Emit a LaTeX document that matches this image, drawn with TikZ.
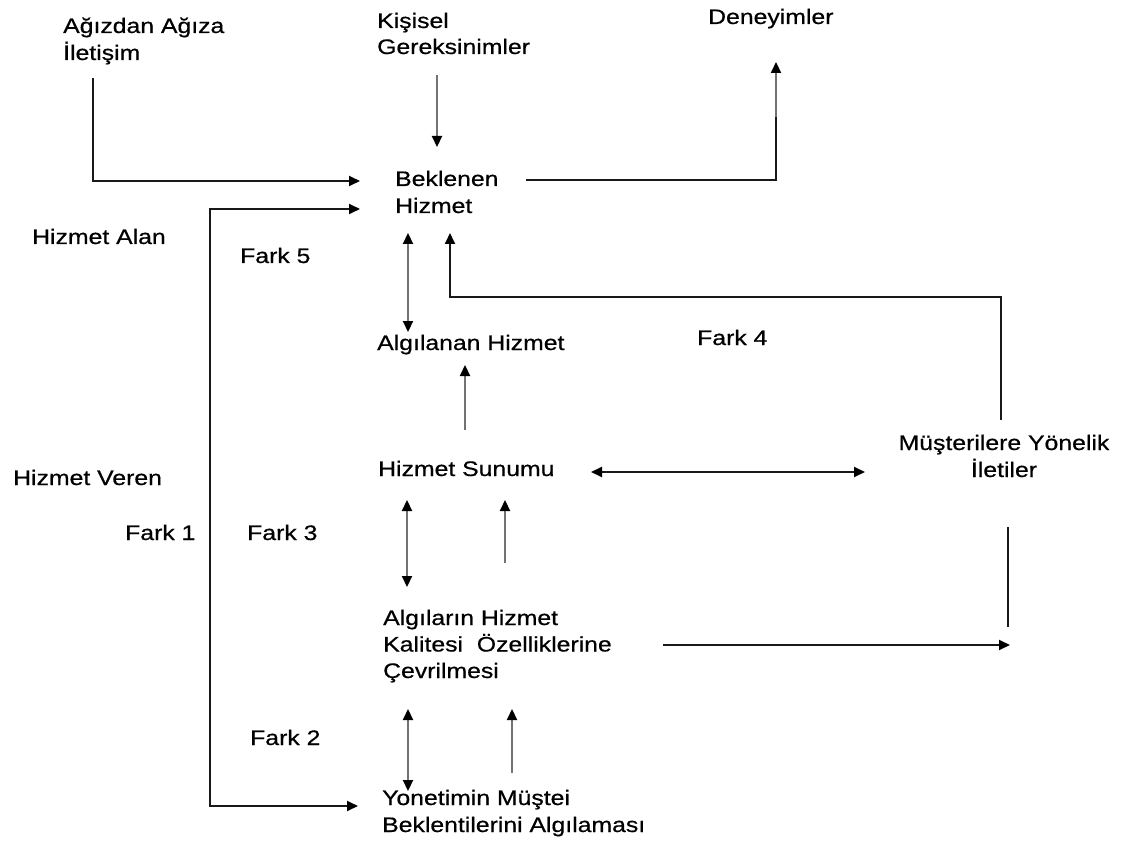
\documentclass[tikz,border=0pt]{standalone}
\usepackage{fontspec}
\setmainfont{Liberation Sans}[FakeStretch=1.18,FakeBold=0.6]
\usetikzlibrary{arrows.meta}
\begin{document}
\begin{tikzpicture}[x=1pt,y=-1pt,
  lbl/.style={anchor=base west, inner sep=0pt, align=left, font=\fontsize{21}{27}\selectfont},
  clbl/.style={anchor=base, inner sep=0pt, align=center, font=\fontsize{21}{27}\selectfont},
  ln/.style={line width=1.8pt, draw=black!90},
  gln/.style={line width=2.2pt, draw=black!55},
  tipend/.style={-{Triangle[length=11pt,width=10pt,color=black]}},
  tipboth/.style={{Triangle[length=11pt,width=10pt,color=black]}-{Triangle[length=11pt,width=10pt,color=black]}}
]
\useasboundingbox[fill=white] (0,0) rectangle (1141,845);

% texts (multi-line nodes: base = baseline of last line)
\node[lbl] (agiz) at (63,60) {Ağızdan Ağıza\\İletişim};
\node[lbl, font=\fontsize{21}{26}\selectfont] (kis) at (377,54) {Kişisel\\Gereksinimler};
\node[lbl] (den) at (708,24) {Deneyimler};
\node[lbl] (bek) at (395,213) {Beklenen\\Hizmet};
\node[lbl] (alan) at (32,244) {Hizmet Alan};
\node[lbl] (f5) at (240,263) {Fark 5};
\node[lbl] (alg) at (377,350) {Algılanan Hizmet};
\node[lbl] (f4) at (697,345) {Fark 4};
\node[lbl] (sun) at (378,476) {Hizmet Sunumu};
\node[clbl] (mus) at (1004,477) {Müşterilere Yönelik\\İletiler};
\node[lbl] (veren) at (13,485) {Hizmet Veren};
\node[lbl] (f1) at (125,540) {Fark 1};
\node[lbl] (f3) at (247,540) {Fark 3};
\node[lbl, font=\fontsize{21}{26.5}\selectfont] (cev) at (383,678) {Algıların Hizmet\\Kalitesi\ \ Özelliklerine\\Çevrilmesi};
\node[lbl] (f2) at (250,745) {Fark 2};
\node[lbl] (yon) at (382,832) {Yonetimin Müştei\\Beklentilerini Algılaması};

% coordinates
\coordinate (a1) at (93,78);
\coordinate (a2) at (93,181);
\coordinate (a3) at (360,181);
\coordinate (b1) at (360,209);
\coordinate (b2) at (210,209);
\coordinate (b3) at (210,806);
\coordinate (b4) at (358,806);
\coordinate (k1) at (437,75);
\coordinate (k2) at (437,147);
\coordinate (d1) at (526,180);
\coordinate (d2) at (776,180);
\coordinate (d3) at (776,117);
\coordinate (d4) at (776,62);
\coordinate (e1) at (408,233);
\coordinate (e2) at (408,332);
\coordinate (g1) at (1001,420);
\coordinate (g2) at (1001,297);
\coordinate (g3) at (450,297);
\coordinate (g4) at (450,233);
\coordinate (h1) at (465,430);
\coordinate (h2) at (465,365);
\coordinate (s1) at (591,472);
\coordinate (s2) at (865,472);
\coordinate (c1) at (407,500);
\coordinate (c2) at (407,587);
\coordinate (c3) at (505,563);
\coordinate (c4) at (505,500);
\coordinate (m1) at (1008,527);
\coordinate (m2) at (1008,627);
\coordinate (n1) at (663,645);
\coordinate (n2) at (1010,645);
\coordinate (y1) at (408,709);
\coordinate (y2) at (408,791);
\coordinate (y3) at (512,773);
\coordinate (y4) at (512,709);

% connectors
\draw[ln, tipend] (a1) -- (a2) -- (a3);
\draw[ln, tipboth] (b4) -- (b3) -- (b2) -- (b1);
\draw[gln, tipend] (k1) -- (k2);
\draw[ln] (d1) -- (d2) -- (d3);
\draw[gln, tipend] (d3) -- (d4);
\draw[gln, tipboth] (e1) -- (e2);
\draw[ln, tipend] (g1) -- (g2) -- (g3) -- (g4);
\draw[gln, tipend] (h1) -- (h2);
\draw[ln, tipboth] (s1) -- (s2);
\draw[gln, tipboth] (c1) -- (c2);
\draw[gln, tipend] (c3) -- (c4);
\draw[ln] (m1) -- (m2);
\draw[ln, tipend] (n1) -- (n2);
\draw[gln, tipboth] (y1) -- (y2);
\draw[gln, tipend] (y3) -- (y4);
\end{tikzpicture}
\end{document}
